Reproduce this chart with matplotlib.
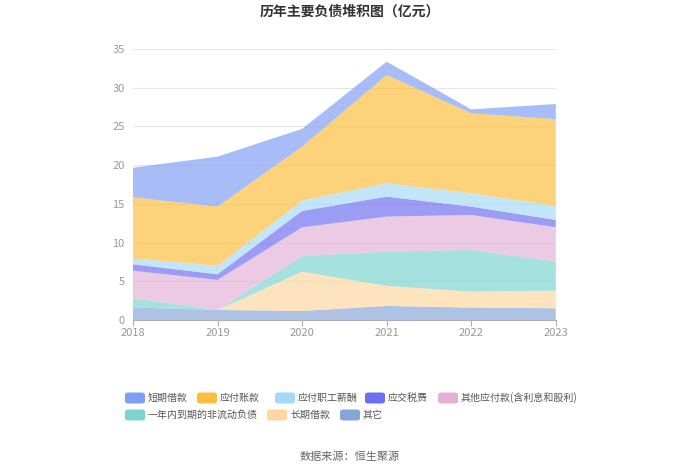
import matplotlib.pyplot as plt
from matplotlib.patches import FancyBboxPatch

plt.rcParams['font.family'] = ['Noto Sans CJK SC', 'DejaVu Sans']

years = ['2018', '2019', '2020', '2021', '2022', '2023']

# 各项负债 (亿元)
duanqi_jiekuan = [3.83, 6.46, 2.28, 1.72, 0.50, 1.97]
yingfu_zhangkuan = [7.88, 7.66, 6.98, 13.99, 10.34, 11.20]
zhigong_xinchou = [0.77, 1.08, 1.34, 1.73, 1.72, 1.81]
yingjiao_shuifei = [0.83, 0.73, 2.11, 2.58, 1.08, 0.95]
qita_yingfu = [3.57, 3.88, 3.70, 4.52, 4.52, 4.43]
yinian_daoqi = [1.20, 0.00, 2.03, 4.44, 5.38, 3.75]
changqi_jiekuan = [0.00, 0.00, 5.08, 2.58, 2.07, 2.28]
qita = [1.59, 1.29, 1.16, 1.81, 1.59, 1.51]

names = ['短期借款', '应付账款', '应付职工薪酬', '应交税费', '其他应付款(含利息和股利)',
         '一年内到期的非流动负债', '长期借款', '其它']
colors = ['#7f9ef6', '#fcbf3c', '#a5d9f6', '#6d6ef0', '#e5b1d8',
          '#7bd4d0', '#fdd6a0', '#86a6da']

# 从下往上堆叠
stack_order = [qita, changqi_jiekuan, yinian_daoqi, qita_yingfu,
               yingjiao_shuifei, zhigong_xinchou, yingfu_zhangkuan, duanqi_jiekuan]
stack_colors = colors[::-1]

fig = plt.figure(figsize=(7, 4.74), dpi=100)
ax = fig.add_axes([0.19, 0.325, 0.604, 0.5716])

x = list(range(len(years)))
ax.stackplot(x, *stack_order, colors=stack_colors, alpha=0.68, linewidth=0)

ax.set_xlim(0, len(years) - 1)
ax.set_ylim(0, 35)
ax.set_yticks(range(0, 36, 5))
ax.set_xticks(x)
ax.set_xticklabels(years)
ax.grid(axis='y', color='#e6e6e6', linewidth=0.8)
ax.set_axisbelow(True)
for s in ['top', 'right', 'left']:
    ax.spines[s].set_visible(False)
ax.spines['bottom'].set_color('#b0b0b0')
ax.tick_params(axis='y', length=0, labelsize=8, labelcolor='#999999', pad=6)
ax.tick_params(axis='x', length=4, color='#b0b0b0', labelsize=8, labelcolor='#999999', pad=2)

fig.text(0.5, 0.975, '历年主要负债堆积图（亿元）', ha='center', va='center',
         fontsize=10, fontweight='bold', color='#333333')

# 图例 (两行, 流式排列)
rows = [
    [(0, 125), (1, 197), (2, 275), (3, 365), (4, 438)],
    [(5, 125), (6, 267), (7, 340)],
]
row_y = [398, 415]
for r, items in enumerate(rows):
    for idx, px in items:
        yy = 1 - row_y[r] / 474
        fig.patches.append(FancyBboxPatch((px / 700, yy - 5.5 / 474), 20 / 700, 11 / 474,
                                          boxstyle='round,pad=0,rounding_size=0.005',
                                          transform=fig.transFigure, facecolor=colors[idx],
                                          edgecolor='none'))
        fig.text((px + 23) / 700, yy, names[idx], ha='left', va='center',
                 fontsize=7.2, color='#555555')

fig.text(0.5, 1 - 457 / 474, '数据来源：恒生聚源', ha='center', va='center',
         fontsize=8, color='#666666')

fig.savefig('out.png', dpi=100)
